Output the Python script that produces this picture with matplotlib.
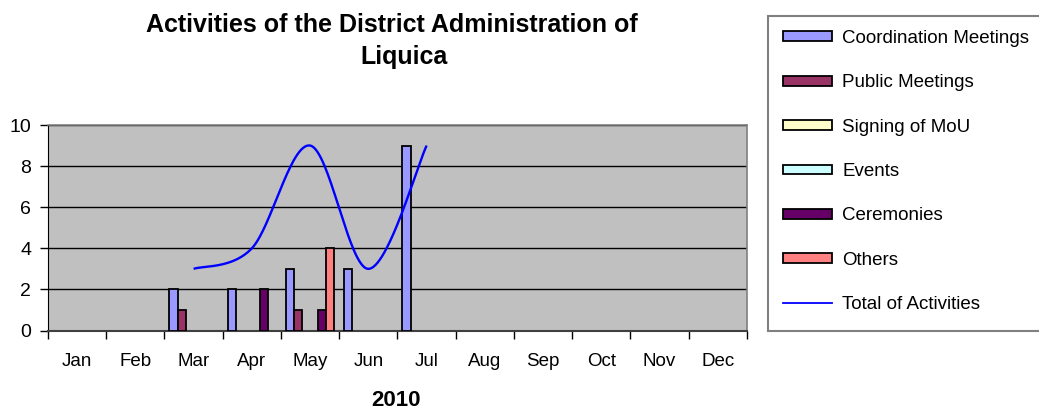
import numpy as np
import matplotlib
matplotlib.use("Agg")
import matplotlib.pyplot as plt
from matplotlib.patches import Patch, Rectangle
from matplotlib.lines import Line2D

plt.rcParams['font.family'] = ['Liberation Sans', 'DejaVu Sans']

months = ["Jan", "Feb", "Mar", "Apr", "May", "Jun", "Jul", "Aug", "Sep", "Oct", "Nov", "Dec"]
series_names = ["Coordination Meetings", "Public Meetings", "Signing of MoU",
                "Events", "Ceremonies", "Others"]
coordination = [0, 0, 2, 2, 3, 3, 9, 0, 0, 0, 0, 0]
public = [0, 0, 1, 0, 1, 0, 0, 0, 0, 0, 0, 0]
signing = [0, 0, 0, 0, 0, 0, 0, 0, 0, 0, 0, 0]
events = [0, 0, 0, 0, 0, 0, 0, 0, 0, 0, 0, 0]
ceremonies = [0, 0, 0, 2, 1, 0, 0, 0, 0, 0, 0, 0]
others = [0, 0, 0, 0, 4, 0, 0, 0, 0, 0, 0, 0]
total_months = ["Mar", "Apr", "May", "Jun", "Jul"]
total = [3, 4, 9, 3, 9]
yticks = [0, 2, 4, 6, 8, 10]

colors = ["#9999FF", "#993366", "#FFFFCC", "#CCFFFF", "#660066", "#FF8080"]
line_color = "#0000FF"

W, H = 1039, 413
fig = plt.figure(figsize=(W / 100, H / 100), dpi=100)
fig.patch.set_facecolor("white")

ax_l, ax_r, ax_t, ax_b = 48, 747, 125, 330.5
ax = fig.add_axes([ax_l / W, 1 - ax_b / H, (ax_r - ax_l) / W, (ax_b - ax_t) / H])
ax.set_facecolor("#C0C0C0")

x = np.arange(len(months))
group = 0.83
bw = group / len(series_names)
all_series = [coordination, public, signing, events, ceremonies, others]
for j, (vals, c) in enumerate(zip(all_series, colors)):
    pos = x - group / 2 + bw * (j + 0.5)
    v = np.array(vals, dtype=float)
    mask = v > 0
    ax.bar(pos[mask], v[mask], width=bw, color=c, edgecolor="black", linewidth=1.3, zorder=3)

# Excel-style smoothed line (Catmull-Rom bezier)
tx = np.array([months.index(m) for m in total_months], dtype=float)
ty = np.array(total, dtype=float)
pts = np.column_stack([tx, ty])
curve = []
n = len(pts)
for i in range(n - 1):
    p0 = pts[i - 1] if i > 0 else pts[i]
    p1 = pts[i]
    p2 = pts[i + 1]
    p3 = pts[i + 2] if i + 2 < n else pts[i + 1]
    c1 = p1 + (p2 - p0) / 6.0
    c2 = p2 - (p3 - p1) / 6.0
    t = np.linspace(0, 1, 60)[:, None]
    seg = ((1 - t) ** 3) * p1 + 3 * ((1 - t) ** 2) * t * c1 + 3 * (1 - t) * t ** 2 * c2 + t ** 3 * p2
    curve.append(seg if i == 0 else seg[1:])
curve = np.vstack(curve)
ax.plot(curve[:, 0], curve[:, 1], color=line_color, linewidth=1.7, zorder=4, solid_capstyle="butt")

ax.set_xlim(-0.5, len(months) - 0.5)
ax.set_ylim(0, 10)
ax.set_yticks(yticks)
ax.yaxis.grid(True, color="black", linewidth=1.0, zorder=1)
ax.set_axisbelow(True)

ax.set_xticks(np.arange(-0.5, len(months) - 0.4, 1.0))
ax.set_xticklabels([])
ax.set_xticks(x, minor=True)
ax.set_xticklabels(months, minor=True)
ax.tick_params(axis="x", which="major", length=6, width=1, color="black", direction="out")
ax.tick_params(axis="x", which="minor", length=0, pad=16, labelsize=13.5)
ax.tick_params(axis="y", length=6, width=1, color="black", direction="out", pad=6, labelsize=14)

for s in ["top", "right"]:
    ax.spines[s].set_color("#808080")
    ax.spines[s].set_linewidth(1.2)
ax.spines["left"].set_color("black")
ax.spines["bottom"].set_color("#404040")
ax.spines["bottom"].set_linewidth(1.5)

fig.text(392 / W, 1 - 32 / H, "Activities of the District Administration of",
         ha="center", va="baseline", fontsize=18, fontweight="bold")
fig.text(404.5 / W, 1 - 64 / H, "Liquica", ha="center", va="baseline", fontsize=18, fontweight="bold")
fig.text(396 / W, 1 - 401 / H, "2010", ha="center", va="center", fontsize=16, fontweight="bold")

# legend frame extending past the right edge
fig.add_artist(Rectangle((768 / W, 1 - 331 / H), 290 / W, 315 / H, transform=fig.transFigure,
                         facecolor="white", edgecolor="#808080", linewidth=1.5, zorder=0))
handles = [Patch(facecolor=c, edgecolor="black", linewidth=1.3) for c in colors]
handles.append(Line2D([0], [0], color=line_color, linewidth=1.3))
labels = series_names + ["Total of Activities"]
leg = fig.legend(handles, labels, loc="upper left",
                 bbox_to_anchor=(768 / W, 1 - 15 / H), bbox_transform=fig.transFigure,
                 frameon=False, fontsize=13.5, handlelength=2.61, handleheight=0.42,
                 handletextpad=0.55, labelspacing=1.46, borderpad=0.3)

fig.savefig("out.png", dpi=100)
